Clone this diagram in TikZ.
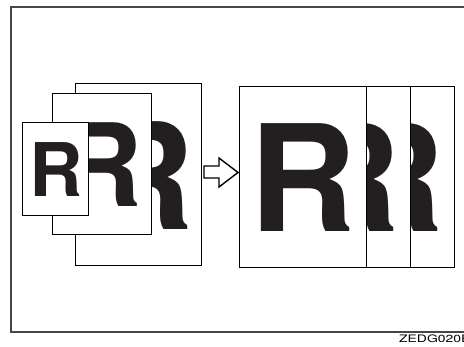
\documentclass[tikz,border=0pt]{standalone}
\usepackage{fontspec}
\setmainfont{TeX Gyre Heros}
\usepackage{xcolor}
\usetikzlibrary{positioning}
\definecolor{inkdark}{RGB}{35,31,32}
\definecolor{framegray}{RGB}{70,70,70}

\begin{document}
\begin{tikzpicture}[
    x=1pt, y=-1pt,
    page/.style={draw=black, fill=white, line width=0.8pt},
    letter/.style={inner sep=0pt, anchor=base, text=inkdark, font=\bfseries\fontsize{#1}{#1}\selectfont}
]
\useasboundingbox (0,0) rectangle (464,347);

% outer frame (open on the right)
\draw[framegray, line width=1.3pt] (464,7) -- (11,7) -- (11,332) -- (464,332);

% original: three stacked pages
\draw[page] (75,83) rectangle (201,265);
\node[letter=148] (backR) at (140.5,230) {R};
\draw[page] (52,93) rectangle (151,234);
\node[letter=115] (midR) at (101,207) {R};
\draw[page] (22,122) rectangle (88,215);
\node[letter=74] (smallR) at (56.2,197) {R};

% hollow arrow
\draw[line width=1.4pt, fill=white, line join=miter]
    (204,166) -- (219,166) -- (219,158) -- (238,172.5) -- (219,187) -- (219,178) -- (204,178) -- cycle;

% result: same size copies
\draw[page] (410,86) rectangle (454,267);
\node[letter=148] (copyC) at (391,232) {R};
\draw[page] (366,86) rectangle (410,267);
\node[letter=148] (copyB) at (347,232) {R};
\draw[page] (239,86) rectangle (366,267);
\node[letter=148] (copyA) at (303,232) {R};

\node[anchor=base west, inner sep=0pt, font=\fontsize{10.3}{10.3}\selectfont] (code) at (399,343) {\scalebox{1.35}[1]{ZEDG020E}};

\end{tikzpicture}
\end{document}
